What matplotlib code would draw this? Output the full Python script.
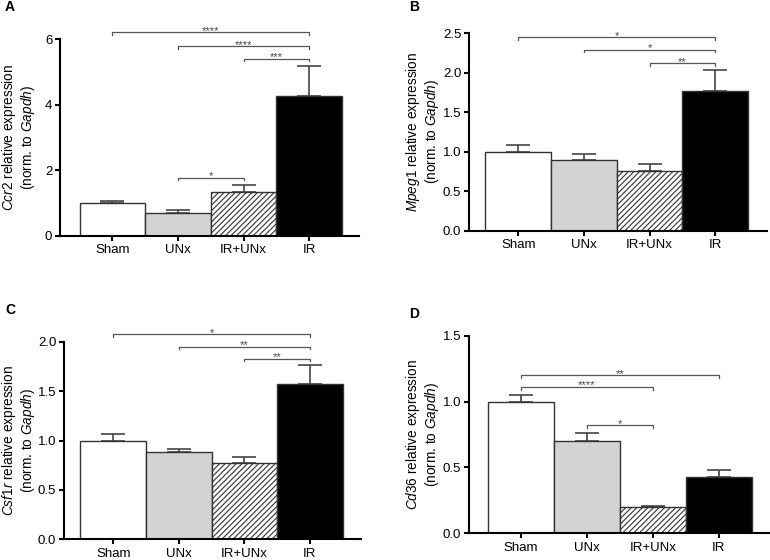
import matplotlib
matplotlib.use("Agg")
import matplotlib.pyplot as plt

plt.rcParams['font.family'] = ['Liberation Sans', 'DejaVu Sans']
plt.rcParams['mathtext.fontset'] = 'custom'
plt.rcParams['mathtext.rm'] = 'Liberation Sans'
plt.rcParams['mathtext.it'] = 'Liberation Sans:italic'
plt.rcParams['hatch.linewidth'] = 0.8

categories = ["Sham", "UNx", "IR+UNx", "IR"]

genes = ["Ccr2", "Mpeg1", "Csf1r", "Cd36"]
panel_letters = ["A", "B", "C", "D"]

means_A = [1.00, 0.70, 1.33, 4.27]
errs_A = [0.07, 0.10, 0.24, 0.93]
means_B = [1.00, 0.90, 0.75, 1.77]
errs_B = [0.09, 0.07, 0.09, 0.26]
means_C = [1.00, 0.88, 0.77, 1.57]
errs_C = [0.07, 0.04, 0.06, 0.20]
means_D = [1.00, 0.70, 0.20, 0.43]
errs_D = [0.05, 0.06, 0.01, 0.05]

yticks_A = [0, 2, 4, 6]
yticks_B = [0.0, 0.5, 1.0, 1.5, 2.0, 2.5]
yticks_C = [0.0, 0.5, 1.0, 1.5, 2.0]
yticks_D = [0.0, 0.5, 1.0, 1.5]
ytick_labels_A = ["0", "2", "4", "6"]
ytick_labels_B = ["0.0", "0.5", "1.0", "1.5", "2.0", "2.5"]
ytick_labels_C = ["0.0", "0.5", "1.0", "1.5", "2.0"]
ytick_labels_D = ["0.0", "0.5", "1.0", "1.5"]

# significance: (group i, group j, y level, label)
sig_A = [(0, 3, 6.22, "****"), (1, 3, 5.79, "****"), (2, 3, 5.40, "***"), (1, 2, 1.77, "*")]
sig_B = [(0, 3, 2.45, "*"), (1, 3, 2.29, "*"), (2, 3, 2.12, "**")]
sig_C = [(0, 3, 2.08, "*"), (1, 3, 1.95, "**"), (2, 3, 1.83, "**")]
sig_D = [(0, 3, 1.20, "**"), (0, 2, 1.11, "****"), (1, 2, 0.82, "*")]

W, H = 770, 560
fig = plt.figure(figsize=(W / 100, H / 100), dpi=100)

# axes pixel boxes: left, right, bottom(y px), top(y px)
boxes = [(60, 359, 236, 39.3), (469, 767, 230.7, 33.3),
         (64, 361, 539.3, 342), (469, 769, 533.3, 335.7)]
xlims = [(-0.80, 3.76), (-0.75, 3.79), (-0.75, 3.78), (-0.79, 3.76)]
letter_pos = [(10, 7), (414, 7), (10, 310), (414, 314)]
label_right = [37, 441, 37, 441]

panels = [
    (means_A, errs_A, yticks_A, ytick_labels_A, sig_A),
    (means_B, errs_B, yticks_B, ytick_labels_B, sig_B),
    (means_C, errs_C, yticks_C, ytick_labels_C, sig_C),
    (means_D, errs_D, yticks_D, ytick_labels_D, sig_D),
]

fills = ["white", "#d3d3d3", "white", "black"]
hatches = [None, None, "//////", None]
edge = "#333333"

for k, (means, errs, yt, ytl, sigs) in enumerate(panels):
    l, r, b, t = boxes[k]
    ax = fig.add_axes([l / W, (H - b) / H, (r - l) / W, (b - t) / H])
    x = list(range(len(categories)))
    ax.errorbar(x, means, yerr=[[0] * 4, errs], fmt="none", ecolor="#444444",
                elinewidth=1.2, capsize=8.5, capthick=1.2, zorder=1)
    for i in x:
        ax.bar(i, means[i], width=1.0, color=fills[i], edgecolor=edge,
               linewidth=1.0, hatch=hatches[i], zorder=2)
    ax.set_xlim(*xlims[k])
    ax.set_ylim(yt[0], yt[-1])
    ax.set_yticks(yt)
    ax.set_yticklabels(ytl)
    ax.set_xticks(x)
    ax.set_xticklabels(categories)
    for s in ["top", "right"]:
        ax.spines[s].set_visible(False)
    for s in ["left", "bottom"]:
        ax.spines[s].set_linewidth(1.5)
        ax.spines[s].set_color("black")
    ax.tick_params(axis="both", direction="out", length=3.5, width=1.5,
                   labelsize=9.5, colors="black", pad=2)
    ax.tick_params(axis="x", pad=2.5)
    gene = genes[k]
    ax.set_ylabel(r"$\it{" + gene + r"}$ relative expression" + "\n" +
                  r"(norm. to $\it{Gapdh}$)", fontsize=9.8,
                  linespacing=1.1)
    ax.yaxis.set_label_coords((label_right[k] - l) / (r - l), 0.5)
    yr = yt[-1] - yt[0]
    px = yr / (b - t)
    for (i, j, yl, lab) in sigs:
        d = 2.5 * px
        ax.plot([i, i, j, j], [yl - d, yl, yl, yl - d], color="#555555",
                lw=0.9, clip_on=False, zorder=3)
        ax.text((i + j) / 2, yl - 1.5 * px, lab, ha="center", va="baseline",
                fontsize=8, color="#444444", clip_on=False)
    fig.text(letter_pos[k][0] / W, 1 - letter_pos[k][1] / H, panel_letters[k],
             fontsize=10, fontweight="bold", ha="center", va="center")

fig.savefig("out.png", dpi=100)
